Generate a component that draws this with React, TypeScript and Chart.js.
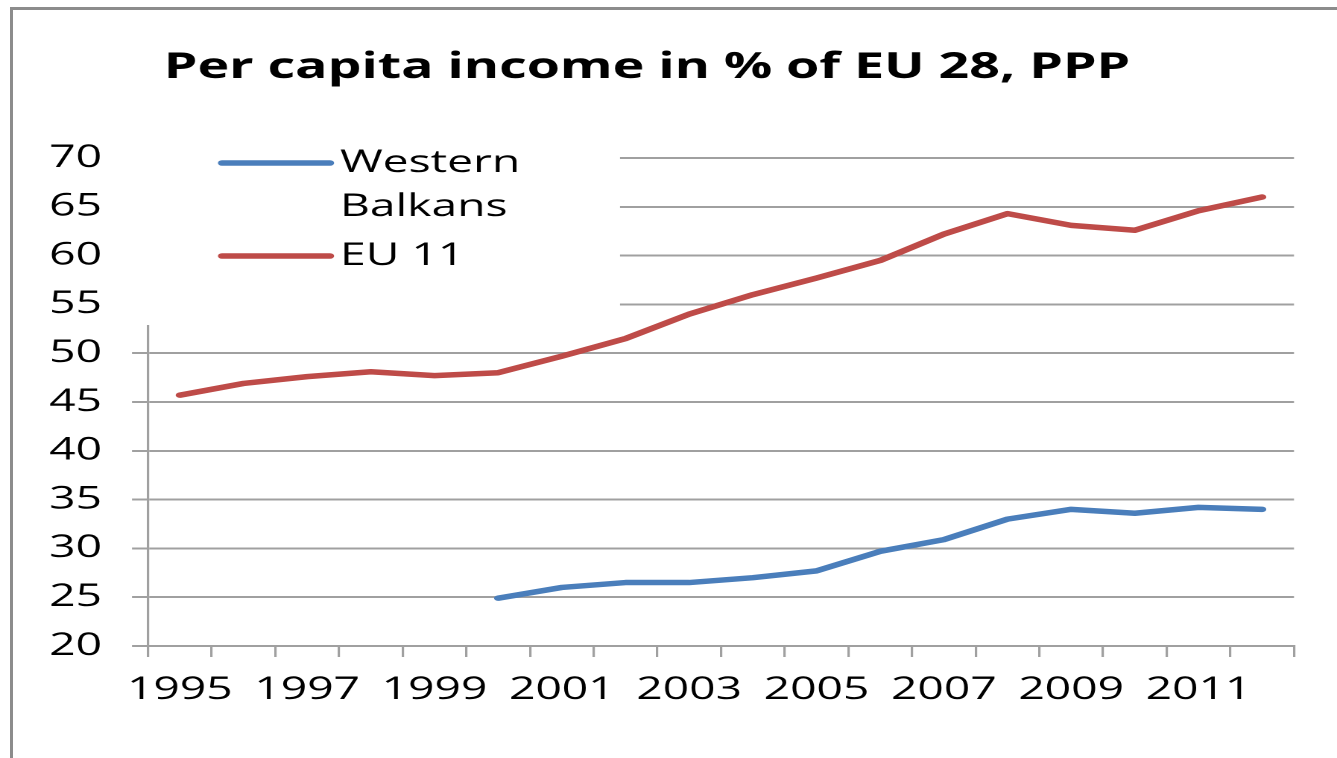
import { useEffect, useRef } from 'react';
import { Chart, registerables } from 'chart.js';

Chart.register(...registerables);

// ---------- data ----------
const years = ['1995', '1996', '1997', '1998', '1999', '2000', '2001', '2002', '2003', '2004', '2005', '2006', '2007', '2008', '2009', '2010', '2011', '2012'];
const westernBalkans = [null, null, null, null, null, 24.9, 26.0, 26.5, 26.5, 27.0, 27.7, 29.7, 30.9, 33.0, 34.0, 33.6, 34.2, 34.0];
const eu11 = [45.7, 46.9, 47.6, 48.1, 47.7, 48.0, 49.7, 51.5, 54.0, 56.0, 57.7, 59.5, 62.2, 64.3, 63.1, 62.6, 64.6, 66.0];
const seriesLabels = ['Western Balkans', 'EU 11'];
const seriesColors = ['#4A7EBB', '#BE4B48'];
const yMin = 20;
const yMax = 70;
const yStep = 5;
const chartTitle = 'Per capita income in % of EU 28, PPP';

// ---------- layout ----------
const PAGE_W = 1337;
const PAGE_H = 758;
const CANVAS_W = 897;
const SX = PAGE_W / CANVAS_W; // horizontal stretch of the picture
const FONT = "'Open Sans', 'DejaVu Sans', sans-serif";
const GRID = '#a0a0a0';

const insetLegend = {
  id: 'insetLegend',
  beforeDatasetsDraw(chart: any) {
    const { ctx, chartArea } = chart;
    const left = chartArea.left;
    const top = chartArea.top;
    const boxL = left - 33 / SX;
    const boxR = left + (620 - 148) / SX;
    const boxT = top - 20;
    const boxB = top + 167;
    ctx.save();
    ctx.fillStyle = '#ffffff';
    ctx.fillRect(boxL, boxT, boxR - boxL, boxB - boxT);

    const sampleX0 = left + (222 - 148) / SX;
    const sampleX1 = left + (330 - 148) / SX;
    const textX = left + (340 - 148) / SX;
    const maxW = boxR - textX;
    ctx.font = `31px ${FONT}`;
    ctx.textBaseline = 'middle';
    ctx.textAlign = 'left';
    let y = top + 5;
    chart.data.datasets.forEach((ds: any) => {
      const words = String(ds.label).split(' ');
      const lines: string[] = [];
      let cur = '';
      words.forEach((w) => {
        const test = cur ? cur + ' ' + w : w;
        if (ctx.measureText(test).width > maxW && cur) {
          lines.push(cur);
          cur = w;
        } else {
          cur = test;
        }
      });
      if (cur) lines.push(cur);

      ctx.strokeStyle = ds.borderColor;
      ctx.lineWidth = 5.5;
      ctx.lineCap = 'round';
      ctx.beginPath();
      ctx.moveTo(sampleX0, y);
      ctx.lineTo(sampleX1, y);
      ctx.stroke();

      ctx.fillStyle = '#000000';
      lines.forEach((ln, i) => {
        ctx.fillText(ln, textX, y + i * 44);
      });
      y += (lines.length - 1) * 44 + 49;
    });
    ctx.restore();
  },
};

export default function App() {
  const canvasRef = useRef<HTMLCanvasElement | null>(null);

  useEffect(() => {
    if (!canvasRef.current) return;
    Chart.defaults.font.family = FONT;
    const chart = new Chart(canvasRef.current, {
      type: 'line',
      data: {
        labels: years,
        datasets: [
          {
            label: seriesLabels[0],
            data: westernBalkans,
            borderColor: seriesColors[0],
            backgroundColor: seriesColors[0],
            borderWidth: 5.5,
            pointRadius: 0,
            tension: 0,
            borderJoinStyle: 'round',
            borderCapStyle: 'round',
            fill: false,
          },
          {
            label: seriesLabels[1],
            data: eu11,
            borderColor: seriesColors[1],
            backgroundColor: seriesColors[1],
            borderWidth: 5.5,
            pointRadius: 0,
            tension: 0,
            borderJoinStyle: 'round',
            borderCapStyle: 'round',
            fill: false,
          },
        ],
      },
      options: {
        responsive: false,
        animation: false,
        devicePixelRatio: 2,
        events: [],
        layout: {
          padding: { left: 0, right: (PAGE_W - 1294) / SX, top: 0, bottom: 0 },
        },
        plugins: {
          legend: { display: false },
          tooltip: { enabled: false },
          title: {
            display: true,
            text: chartTitle,
            color: '#000000',
            font: { size: 36, weight: 'bold', family: FONT, lineHeight: 1.2 },
            padding: { top: 46, bottom: 158 - 46 - 43.2 },
          },
        },
        scales: {
          x: {
            type: 'category',
            offset: true,
            grid: {
              display: true,
              offset: true,
              drawOnChartArea: false,
              drawTicks: true,
              tickLength: 11,
              color: GRID,
              lineWidth: 1.6,
            },
            border: { display: true, color: GRID, width: 2 },
            ticks: {
              autoSkip: false,
              maxRotation: 0,
              minRotation: 0,
              color: '#000000',
              padding: 14.5,
              font: { size: 31, family: FONT },
              callback: function (this: any, value: any, index: number) {
                return index % 2 === 0 ? this.getLabelForValue(value) : '';
              },
            },
            afterFit: (scale: any) => {
              scale.height = PAGE_H - 646;
            },
          },
          y: {
            type: 'linear',
            min: yMin,
            max: yMax,
            grid: {
              color: GRID,
              lineWidth: 2,
              drawTicks: true,
              tickLength: 16 / SX,
            },
            border: { display: true, color: GRID, width: 1.6 },
            ticks: {
              stepSize: yStep,
              color: '#000000',
              padding: 30 / SX,
              font: { size: 31, family: FONT },
            },
            afterFit: (scale: any) => {
              scale.width = 148 / SX;
            },
          },
        },
      },
      plugins: [insetLegend],
    } as any);
    return () => chart.destroy();
  }, []);

  return (
    <div
      style={{
        position: 'fixed',
        left: 0,
        top: 0,
        width: PAGE_W,
        height: PAGE_H,
        overflow: 'hidden',
        background: '#ffffff',
      }}
    >
      <div
        style={{
          position: 'absolute',
          left: 0,
          top: 0,
          width: CANVAS_W,
          height: PAGE_H,
          transform: `scaleX(${SX})`,
          transformOrigin: '0 0',
        }}
      >
        <canvas ref={canvasRef} width={CANVAS_W} height={PAGE_H} style={{ display: 'block' }} />
      </div>
      <div
        style={{
          position: 'absolute',
          left: 10,
          top: 7,
          width: 2000,
          height: 2000,
          borderTop: '3px solid #8c8c8c',
          borderLeft: '3px solid #8c8c8c',
          pointerEvents: 'none',
        }}
      />
    </div>
  );
}
